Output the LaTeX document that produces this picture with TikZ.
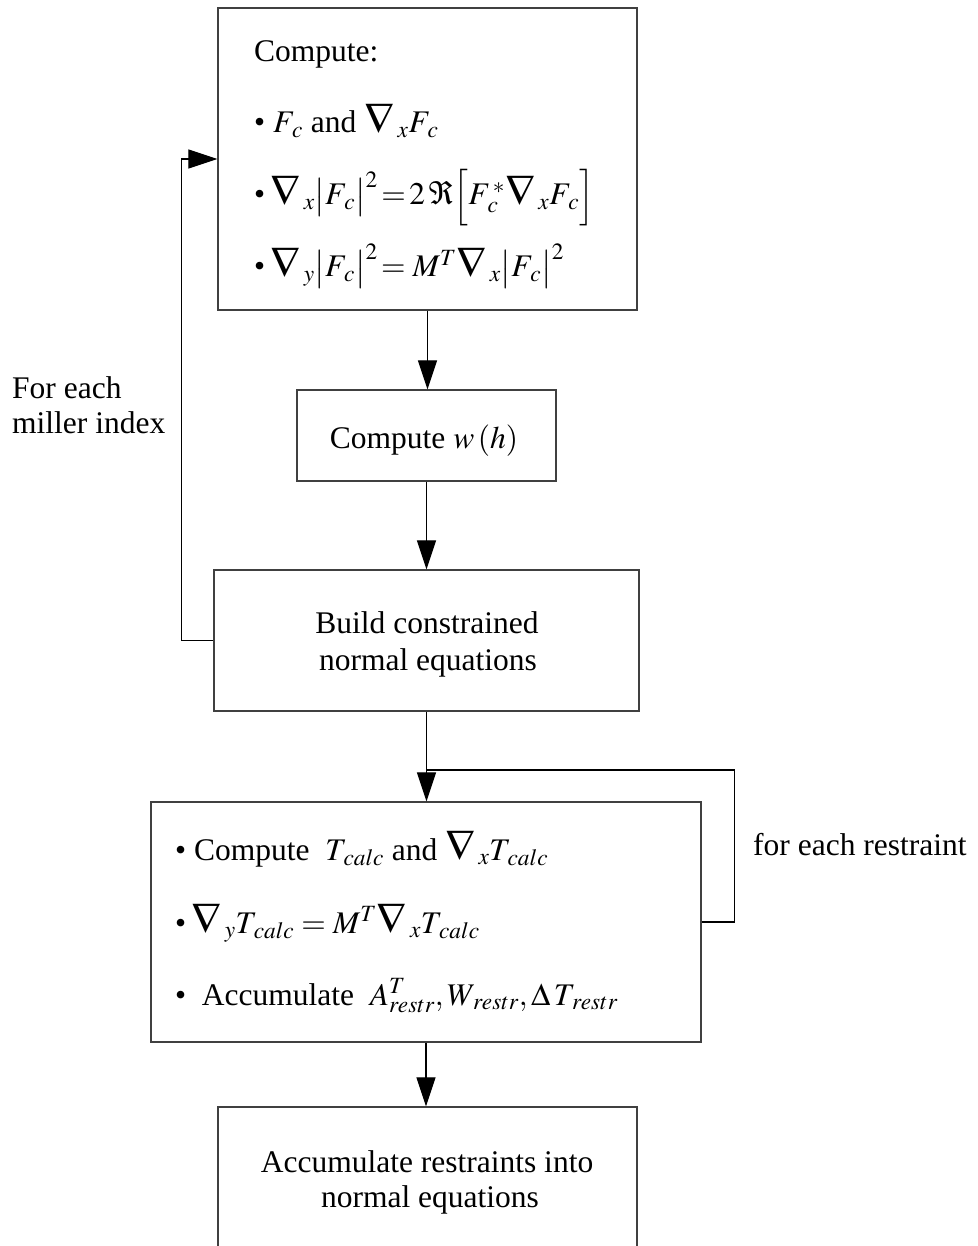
\documentclass[tikz,border=0pt]{standalone}
\usepackage{mathptmx}
\usepackage{graphicx}
\usepackage[no-math]{fontspec}
\setmainfont{Liberation Serif}
\usetikzlibrary{arrows.meta}
\newcommand\Nab{\mathord{\raisebox{-0.02em}{\scalebox{1.35}{$\nabla$}}}}
\newcommand\Sb[1]{_{\kern3pt #1}}
\tikzset{
  box/.style={draw=black!75, line width=1.2pt, inner sep=0pt},
  txt/.style={inner sep=0pt, font=\fontsize{31.5}{37}\selectfont},
  conn/.style={draw=black, line width=1.1pt},
  arr/.style={conn, -{Triangle[length=29pt,width=19pt]}},
}
\begin{document}
\begin{tikzpicture}[x=1pt,y=-1pt]
\useasboundingbox (0,0) rectangle (977,1246);
\clip (0,0) rectangle (977,1246);
% boxes
\node[box, minimum width=419pt, minimum height=302pt] (b1) at (427.5,159) {};
\node[box, minimum width=259pt, minimum height=91pt] (b2) at (426.5,435.5) {};
\node[box, minimum width=425pt, minimum height=141pt] (b3) at (426.5,640.5) {};
\node[box, minimum width=550pt, minimum height=240pt] (b4) at (426,922) {};
\node[box, minimum width=419pt, minimum height=200pt] (b5) at (427.5,1207) {};
% box 1 text
\node[txt, anchor=base west] (t1a) at (254,62) {Compute:};
\node[txt, anchor=base west] (t1b) at (254,133) {\textbullet\ $F\Sb{c}$ and $\Nab\Sb{x}F\Sb{c}$};
\node[txt, anchor=base west] (t1c) at (254,205) {\textbullet\,$\Nab\Sb{x}\bigl|F\Sb{c}\bigr|^{2}\!=\!2\,\Re\Bigl[F\Sb{c}^{\,*}\Nab\Sb{x}F\Sb{c}\Bigr]$};
\node[txt, anchor=base west] (t1d) at (254,277) {\textbullet\,$\Nab\Sb{y}\bigl|F\Sb{c}\bigr|^{2}\!=M^{T}\Nab\Sb{x}\bigl|F\Sb{c}\bigr|^{2}$};
% box 2 text
\node[txt, anchor=base] (t2) at (424,448) {Compute $w\left(h\right)$};
% box 3 text
\node[txt, anchor=base] (t3a) at (427,633) {Build constrained};
\node[txt, anchor=base] (t3b) at (428,670) {normal equations};
% box 4 text
\node[txt, anchor=base west] (t4a) at (175,860) {\textbullet\ Compute\ \ $T\Sb{calc}$ and $\Nab\Sb{x}T\Sb{calc}$};
\node[txt, anchor=base west] (t4b) at (175,933) {\textbullet\,$\Nab\Sb{y}T\Sb{calc}=M^{T}\Nab\Sb{x}T\Sb{calc}$};
\node[txt, anchor=base west] (t4c) at (175,1005) {\textbullet\ \ Accumulate\ \ $A_{restr}^{T},W\Sb{restr},\Delta\, T\Sb{restr}$};
% box 5 text
\node[txt, anchor=base] (t5a) at (427,1172) {Accumulate restraints into};
\node[txt, anchor=base] (t5b) at (430,1207) {normal equations};
% side labels
\node[txt, anchor=base west] (l1a) at (12,398) {For each};
\node[txt, anchor=base west] (l1b) at (12,433) {miller index};
\node[txt, anchor=base west] (l2) at (753,855) {for each restraint};
% connectors
\draw[arr] (b1.south) -- (b1.south |- b2.north);
\draw[arr] (b2.south) -- (b2.south |- b3.north);
\draw[arr] (b3.south) -- (b3.south |- b4.north);
\draw[arr] (b4.south) -- (b4.south |- b5.north);
\draw[arr] (b3.west) -- ++(-32,0) |- (b1.west);
\coordinate (j) at (426.5,770);
\draw[conn] (b4.east) -- ++(33,0) |- (j);
\end{tikzpicture}
\end{document}
